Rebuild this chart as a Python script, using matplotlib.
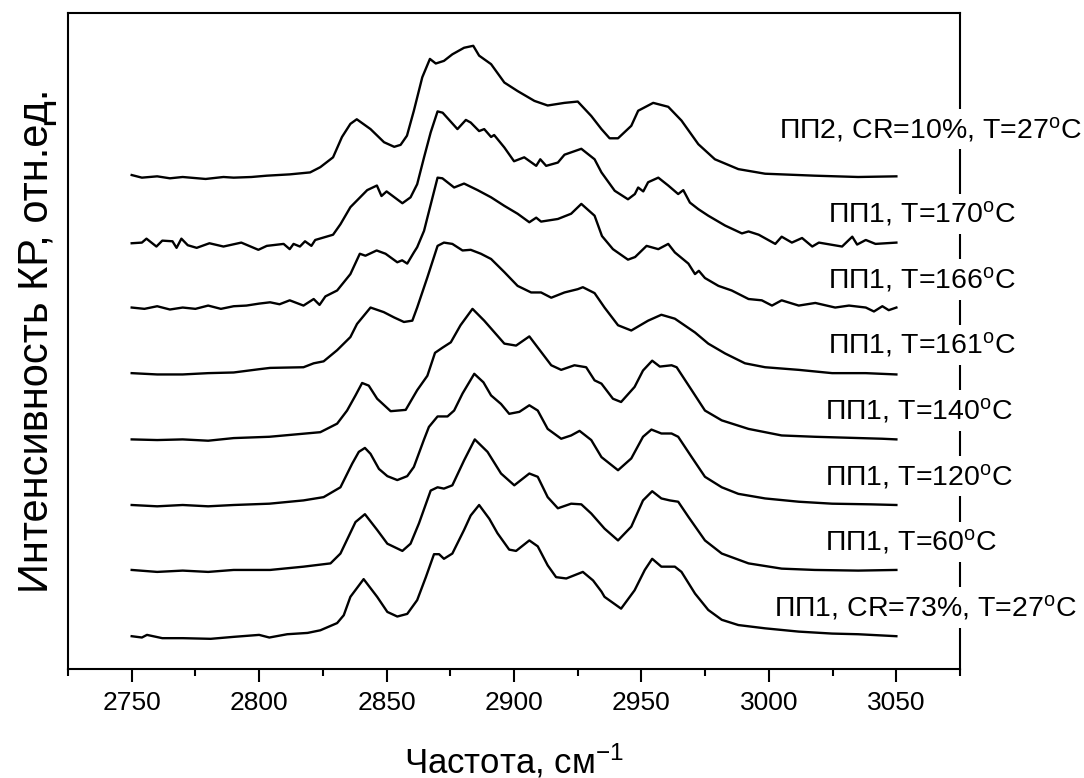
import matplotlib
matplotlib.use("Agg")
import matplotlib.pyplot as plt
from matplotlib.ticker import MultipleLocator

plt.rcParams['font.family'] = ['Liberation Sans', 'DejaVu Sans']
plt.rcParams['mathtext.default'] = 'regular'

# spectra, bottom to top (intensity relative to own baseline)
# ПП1, CR=73%, T=27C
wn_0 = [2750, 2754, 2756, 2762, 2770, 2781, 2790, 2800, 2804, 2811, 2819, 2824, 2830.6, 2833.2,
        2835.8, 2841, 2846.3, 2850.3, 2854.2, 2858.1, 2862, 2865.4, 2868.6, 2870.6, 2872.5, 2875.8,
        2880.4, 2883, 2886.3, 2890.3, 2893.5, 2898.1, 2900.8, 2906, 2909.3, 2913.2, 2916.5, 2920.5,
        2927, 2931, 2934.3, 2935.5, 2942, 2947.3, 2951.3, 2954.2, 2957.8, 2963.1, 2965.7, 2971,
        2976.2, 2981.5, 2988, 2998.5, 3011.7, 3024.8, 3035, 3050]
int_0 = [0.00, -0.02, 0.02, -0.03, -0.03, -0.04, -0.01, 0.02, -0.02, 0.03, 0.05, 0.09, 0.20, 0.32,
         0.60, 0.87, 0.60, 0.37, 0.30, 0.34, 0.55, 0.90, 1.25, 1.25, 1.18, 1.26,
         1.62, 1.84, 2.00, 1.79, 1.57, 1.32, 1.30, 1.46, 1.37, 1.08, 0.90, 0.88,
         0.98, 0.85, 0.68, 0.60, 0.42, 0.70, 1.01, 1.18, 1.06, 1.06, 0.98, 0.65,
         0.40, 0.25, 0.17, 0.12, 0.07, 0.04, 0.03, 0.00]

# ПП1, T=60C
wn_1 = [2750, 2760, 2770, 2780, 2790, 2804.3, 2817.4, 2828, 2831.9, 2837.8, 2841.5, 2846.3, 2850.3,
        2856.2, 2859.4, 2862.7, 2867.3, 2870, 2872.5, 2875.8, 2880.4, 2884.6, 2889.6, 2894.9,
        2900.1, 2906, 2909.3, 2913.2, 2917.2, 2922.4, 2926.4, 2930.3, 2935.5, 2940.8, 2946,
        2950.6, 2954.2, 2957.8, 2961.1, 2964.4, 2968.4, 2974.9, 2981.5, 2992, 3005, 3018, 3035, 3050]
int_1 = [0.01, -0.02, 0.00, -0.02, 0.01, 0.01, 0.06, 0.11, 0.26, 0.74, 0.86, 0.62, 0.41,
         0.30, 0.41, 0.72, 1.22, 1.27, 1.25, 1.30, 1.68, 2.00, 1.81, 1.48,
         1.30, 1.48, 1.43, 1.12, 0.95, 1.02, 1.01, 0.87, 0.64, 0.46, 0.67,
         1.07, 1.21, 1.10, 1.07, 1.05, 0.82, 0.46, 0.26, 0.11, 0.03, 0.01, 0.00, 0.01]

# ПП1, T=120C
wn_2 = [2750, 2760, 2770, 2780, 2790, 2804, 2817.4, 2825.3, 2831.9, 2836.5, 2839.1, 2841.5, 2843.7,
        2847, 2850.3, 2854.2, 2858.1, 2860.7, 2864.6, 2866.6, 2870, 2873.9, 2876.5, 2879.8, 2884.4,
        2888, 2891, 2894.9, 2898.1, 2902.1, 2906, 2909.3, 2913.2, 2918.5, 2922.4, 2925.7, 2930.3,
        2934.3, 2940.8, 2946, 2950.6, 2953.9, 2957.8, 2961.8, 2964.4, 2969.7, 2974.9, 2981.5,
        2988, 2998.5, 3011.7, 3024.8, 3040, 3050]
int_2 = [0.00, -0.02, 0.00, -0.02, 0.00, 0.02, 0.07, 0.12, 0.27, 0.63, 0.81, 0.87, 0.78,
         0.55, 0.44, 0.38, 0.44, 0.58, 0.99, 1.19, 1.35, 1.35, 1.44, 1.70, 2.00,
         1.87, 1.67, 1.54, 1.39, 1.42, 1.52, 1.44, 1.16, 1.01, 1.06, 1.13, 0.99,
         0.73, 0.53, 0.71, 1.04, 1.15, 1.09, 1.09, 1.04, 0.73, 0.43, 0.27,
         0.17, 0.10, 0.05, 0.02, 0.01, 0.00]

# ПП1, T=140C
wn_3 = [2750, 2760, 2770, 2780, 2790, 2804, 2824, 2830.6, 2834.5, 2837.8, 2840.4, 2843, 2846.3,
        2851.6, 2857.5, 2862, 2866, 2869, 2872, 2875.2, 2879, 2883.7, 2888.3, 2896.2, 2900.8,
        2906, 2914.6, 2918.5, 2923.7, 2928.3, 2931.6, 2934.3, 2938.8, 2942, 2947.3, 2950.6,
        2954.2, 2957.2, 2961.8, 2963.8, 2969.7, 2974.9, 2981.5, 2992, 3005, 3018, 3044.5, 3050]
int_3 = [0.00, -0.01, 0.00, -0.02, 0.02, 0.04, 0.11, 0.24, 0.44, 0.67, 0.86, 0.82, 0.62,
         0.43, 0.45, 0.75, 0.97, 1.32, 1.40, 1.48, 1.74, 1.99, 1.81, 1.46, 1.43,
         1.57, 1.13, 1.06, 1.13, 1.10, 0.90, 0.85, 0.62, 0.57, 0.80, 1.05,
         1.20, 1.11, 1.13, 1.10, 0.75, 0.44, 0.29, 0.16, 0.06, 0.04, 0.01, 0.00]

# ПП1, T=161C
wn_4 = [2750, 2760, 2770, 2780, 2790, 2800, 2804.3, 2817.4, 2821.4, 2825.3, 2830.6, 2835.8, 2838.4,
        2843.7, 2848.9, 2852.9, 2856.8, 2860.1, 2862, 2866, 2870, 2872.5, 2875.8, 2879.8, 2883,
        2887, 2891, 2896.2, 2901.4, 2906.7, 2910.6, 2914.6, 2919.8, 2925, 2927, 2931.6, 2935.5,
        2940.8, 2946, 2952.6, 2957.8, 2963.1, 2971, 2976.2, 2982.8, 2990.6, 2998.5, 3011.7,
        3024.8, 3038, 3050]
int_4 = [0.01, -0.01, -0.01, 0.01, 0.02, 0.07, 0.09, 0.10, 0.16, 0.19, 0.36, 0.56, 0.76,
         1.01, 0.94, 0.86, 0.79, 0.81, 1.01, 1.47, 1.95, 2.00, 1.98, 1.88, 1.89,
         1.83, 1.75, 1.55, 1.34, 1.24, 1.24, 1.16, 1.24, 1.29, 1.32, 1.23, 1.01,
         0.74, 0.66, 0.81, 0.90, 0.84, 0.63, 0.46, 0.31, 0.16, 0.10, 0.06,
         0.01, 0.01, -0.01]

# ПП1, T=166C
wn_5 = [2750, 2755, 2760, 2765, 2770, 2775, 2780, 2785, 2790, 2795, 2800, 2804.3, 2808, 2812,
        2817.4, 2821.4, 2823.7, 2826, 2830.6, 2835.8, 2839.5, 2841.7, 2846.1, 2849.6, 2854.2,
        2856.1, 2858.1, 2860.7, 2862, 2864.7, 2866, 2870, 2871.9, 2876.5, 2880.4, 2885.7, 2891,
        2896.2, 2901.4, 2906, 2908.7, 2910.6, 2917.2, 2922.4, 2926.4, 2931.6, 2934.5, 2938.8,
        2944.7, 2947.5, 2952, 2956.6, 2960.5, 2963.1, 2968.4, 2971, 2972.5, 2974.9, 2980.2,
        2985.4, 2992, 2997.2, 3001.2, 3005, 3011.7, 3018.2, 3026, 3031.4, 3038, 3041.2, 3044.5,
        3047, 3050]
int_5 = [0.01, -0.01, 0.03, -0.02, 0.01, -0.01, 0.04, -0.01, 0.03, 0.04, 0.07, 0.09, 0.06, 0.12,
         0.04, 0.14, 0.05, 0.18, 0.27, 0.52, 0.83, 0.80, 0.88, 0.83, 0.70,
         0.73, 0.68, 0.85, 0.93, 1.18, 1.38, 1.99, 1.98, 1.84, 1.90, 1.80, 1.69,
         1.56, 1.44, 1.31, 1.38, 1.32, 1.36, 1.44, 1.59, 1.41, 1.10, 0.90,
         0.74, 0.78, 0.95, 0.90, 0.98, 0.85, 0.68, 0.52, 0.57, 0.46, 0.34,
         0.27, 0.14, 0.12, 0.04, 0.12, 0.04, 0.08, 0.01, 0.04, 0.01, -0.05, 0.03,
         -0.03, 0.01]

# ПП1, T=170C
wn_6 = [2750, 2754, 2755.8, 2759.7, 2762, 2766, 2767.6, 2769.5, 2772, 2775.5, 2780.5, 2786, 2793,
        2799.7, 2803, 2809.6, 2812, 2813.5, 2816, 2818, 2820.5, 2822, 2829, 2831.9, 2835.8,
        2842.4, 2846.2, 2848, 2850, 2856.2, 2859.4, 2862, 2864.7, 2867.3, 2870, 2872, 2877.8,
        2881.1, 2883, 2886.3, 2888.3, 2891, 2892.2, 2896.2, 2900, 2904, 2908.7, 2910.3, 2912.6,
        2917.2, 2919.8, 2926.4, 2931.6, 2934.3, 2939.5, 2944.7, 2947.4, 2948.7, 2950.7, 2952.6,
        2956.6, 2960.5, 2964.4, 2966.4, 2969, 2972.3, 2976.2, 2982.8, 2989.4, 2992, 2996, 3002.5,
        3005, 3009, 3013, 3017, 3019.6, 3028.7, 3032.7, 3034.6, 3038, 3041.8, 3050]
int_6 = [-0.01, 0.00, 0.06, -0.06, 0.03, 0.02, -0.08, 0.06, -0.04, -0.08, -0.01, -0.06, 0.00,
         -0.11, -0.05, -0.02, -0.10, -0.02, -0.06, 0.02, -0.05, 0.04, 0.12, 0.28, 0.54,
         0.80, 0.87, 0.71, 0.78, 0.60, 0.69, 0.89, 1.30, 1.68, 2.00, 1.98, 1.73,
         1.87, 1.83, 1.70, 1.73, 1.61, 1.64, 1.45, 1.24, 1.30, 1.17, 1.27, 1.17,
         1.22, 1.34, 1.43, 1.27, 1.07, 0.79, 0.66, 0.74, 0.84, 0.78, 0.92,
         0.99, 0.87, 0.74, 0.80, 0.61, 0.51, 0.41, 0.26, 0.14, 0.17, 0.12, -0.02,
         0.09, 0.00, 0.07, -0.06, 0.00, -0.06, 0.09, -0.03, 0.04, -0.02, 0.00]

# ПП2, CR=10%, T=27C
wn_7 = [2750, 2754, 2760, 2765, 2770, 2779, 2786, 2790, 2797, 2803, 2812, 2820, 2822, 2824, 2827,
        2829, 2832.5, 2835.8, 2838.3, 2843.7, 2849, 2853, 2855.5, 2858, 2860.7, 2864, 2867, 2869.3,
        2872.5, 2875.8, 2880.4, 2884, 2886.3, 2891, 2896.2, 2901.4, 2908, 2913.2, 2919.8, 2925,
        2930.3, 2934.3, 2937.5, 2940.8, 2946, 2948.7, 2954.6, 2960.5, 2965.7, 2972.3, 2978.8,
        2988, 2998.5, 3018, 3035, 3050]
int_7 = [0.03, -0.01, 0.01, -0.02, 0.00, -0.03, 0.00, -0.01, 0.00, 0.02, 0.04, 0.07, 0.11, 0.15, 0.24,
         0.30, 0.61, 0.81, 0.88, 0.73, 0.53, 0.46, 0.49, 0.63, 1.01, 1.52, 1.80, 1.73,
         1.77, 1.87, 1.97, 2.00, 1.85, 1.72, 1.44, 1.31, 1.16, 1.09, 1.13, 1.15,
         0.93, 0.73, 0.59, 0.59, 0.78, 1.01, 1.13, 1.07, 0.86, 0.50, 0.27,
         0.12, 0.05, 0.02, 0.00, 0.01]

labels = [r'ПП1, CR=73%, T=27$^o$C',
          r'ПП1, T=60$^o$C',
          r'ПП1, T=120$^o$C',
          r'ПП1, T=140$^o$C',
          r'ПП1, T=161$^o$C',
          r'ПП1, T=166$^o$C',
          r'ПП1, T=170$^o$C',
          r'ПП2, CR=10%, T=27$^o$C']

spectra = [(wn_0, int_0), (wn_1, int_1), (wn_2, int_2), (wn_3, int_3),
           (wn_4, int_4), (wn_5, int_5), (wn_6, int_6), (wn_7, int_7)]

# label placement (left edge, height above baseline)
label_x = [3002, 3022, 3022, 3022, 3023, 3023, 3023, 3004]
label_dy = [0.31, 0.31, 0.31, 0.31, 0.31, 0.31, 0.31, 0.60]

fig = plt.figure(figsize=(10.84, 7.78), dpi=100)
ax = fig.add_axes([0.0627, 0.1401, 0.823, 0.8432])

for k, (wn, inten) in enumerate(spectra):
    ax.plot(wn, [v + k for v in inten], color='black', lw=1.7, zorder=6)
    ax.text(label_x[k], k + label_dy[k], labels[k], fontsize=20.5, ha='left', va='baseline',
            zorder=5, clip_on=False,
            bbox=dict(facecolor='white', edgecolor='none', pad=4))

ax.set_xlim(2725, 3075)
ax.set_ylim(-0.5, 9.5)
ax.xaxis.set_major_locator(MultipleLocator(50))
ax.xaxis.set_minor_locator(MultipleLocator(25))
ax.tick_params(axis='x', which='major', direction='out', length=9, width=1.5,
               labelsize=19, pad=7)
ax.tick_params(axis='x', which='minor', direction='out', length=5, width=1.5)
ax.set_yticks([])
for s in ax.spines.values():
    s.set_linewidth(1.5)

ax.set_xlabel(r'Частота, см$^{-1}$', fontsize=25, labelpad=19)
ax.set_ylabel('Интенсивность КР, отн.ед.', fontsize=30, labelpad=8)

fig.savefig('out.png', dpi=100)
